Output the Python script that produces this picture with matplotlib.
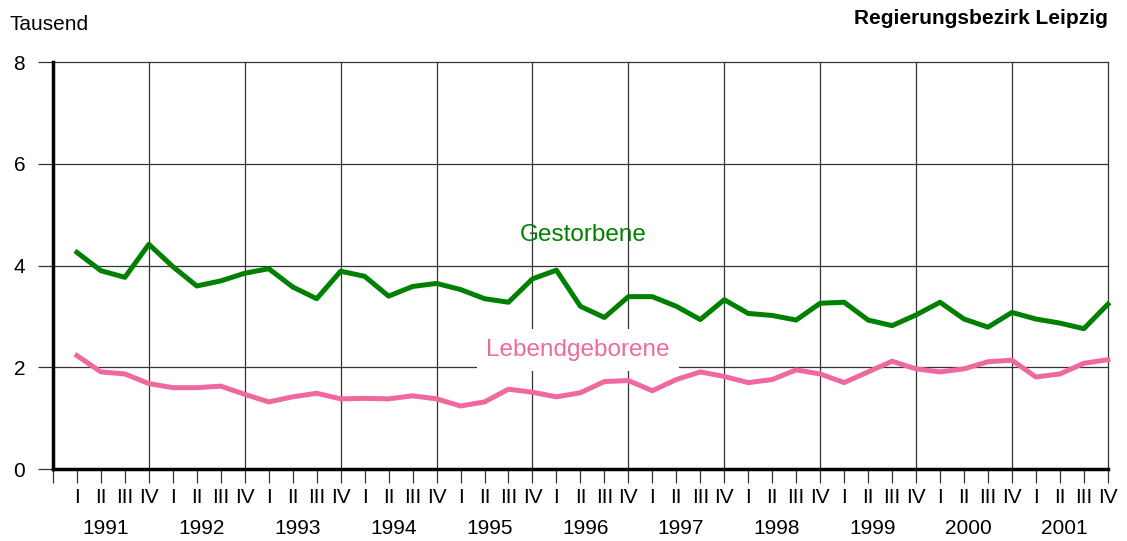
import numpy as np
import matplotlib.pyplot as plt

plt.rcParams['font.family'] = ['Liberation Sans', 'DejaVu Sans']

years = [1991, 1992, 1993, 1994, 1995, 1996, 1997, 1998, 1999, 2000, 2001]
quarters = ['I', 'II', 'III', 'IV']

# Tausend, quarterly 1991 I .. 2001 IV
gestorbene = [4.26, 3.90, 3.77, 4.42, 3.98, 3.60, 3.70, 3.85,
              3.94, 3.58, 3.35, 3.89, 3.79, 3.40, 3.59, 3.65,
              3.53, 3.35, 3.28, 3.74, 3.91, 3.20, 2.98, 3.39,
              3.39, 3.20, 2.94, 3.33, 3.06, 3.02, 2.93, 3.26,
              3.28, 2.93, 2.82, 3.03, 3.28, 2.95, 2.79, 3.08,
              2.95, 2.87, 2.76, 3.24]
lebendgeborene = [2.23, 1.91, 1.87, 1.68, 1.60, 1.60, 1.63, 1.47,
                  1.32, 1.42, 1.49, 1.38, 1.39, 1.38, 1.44, 1.38,
                  1.24, 1.32, 1.57, 1.51, 1.42, 1.50, 1.72, 1.74,
                  1.54, 1.76, 1.91, 1.82, 1.70, 1.76, 1.95, 1.87,
                  1.70, 1.91, 2.12, 1.97, 1.91, 1.97, 2.11, 2.14,
                  1.81, 1.87, 2.08, 2.15]

x = np.arange(1, len(gestorbene) + 1)

fig = plt.figure(figsize=(11.27, 5.41), dpi=100)
ax = fig.add_axes([0.047, 0.133, 0.936, 0.752])

grid_col = '#333333'
for v in [2, 4, 6, 8]:
    ax.axhline(v, color=grid_col, lw=0.9, zorder=1, clip_on=False)
for k in range(4, 45, 4):
    ax.axvline(k, color=grid_col, lw=0.9, zorder=1, clip_on=False)

ax.plot(x, gestorbene, color='#008000', lw=3.6, zorder=3, clip_on=False)
ax.plot(x, lebendgeborene, color='#EE6A9E', lw=3.6, zorder=3, clip_on=False)

ax.set_xlim(0, 44)
ax.set_ylim(0, 8)

ax.spines['top'].set_visible(False)
ax.spines['right'].set_visible(False)
ax.spines['left'].set_linewidth(2.5)
ax.spines['bottom'].set_linewidth(2.5)

ax.set_yticks([0, 2, 4, 6, 8])
ax.tick_params(axis='y', length=11, width=0.9, color=grid_col, pad=9, labelsize=15)

ax.set_xticks(x)
ax.set_xticklabels(quarters * len(years))
ax.set_xticks([0], minor=True)
ax.tick_params(axis='x', which='both', length=10, width=0.9, color=grid_col,
               pad=4, labelsize=15)

for i, yr in enumerate(years):
    ax.text(4 * i + 2.2, -0.147, str(yr), transform=ax.get_xaxis_transform(),
            ha='center', va='center', fontsize=15)

ax.text(22.1, 4.6, 'Gestorbene', color='#008000', fontsize=17.5,
        ha='center', va='center', zorder=4)
ax.text(21.9, 2.34, 'Lebendgeborene', color='#EE6A9E', fontsize=17.5,
        ha='center', va='center', zorder=4,
        bbox=dict(facecolor='white', edgecolor='none', pad=7))

fig.text(10 / 1127, 1 - 25 / 541, 'Tausend', fontsize=15, ha='left', va='center')
fig.text(1108 / 1127, 1 - 18 / 541, 'Regierungsbezirk Leipzig', fontsize=15,
         fontweight='bold', ha='right', va='center')

fig.savefig('out.png', dpi=100)
